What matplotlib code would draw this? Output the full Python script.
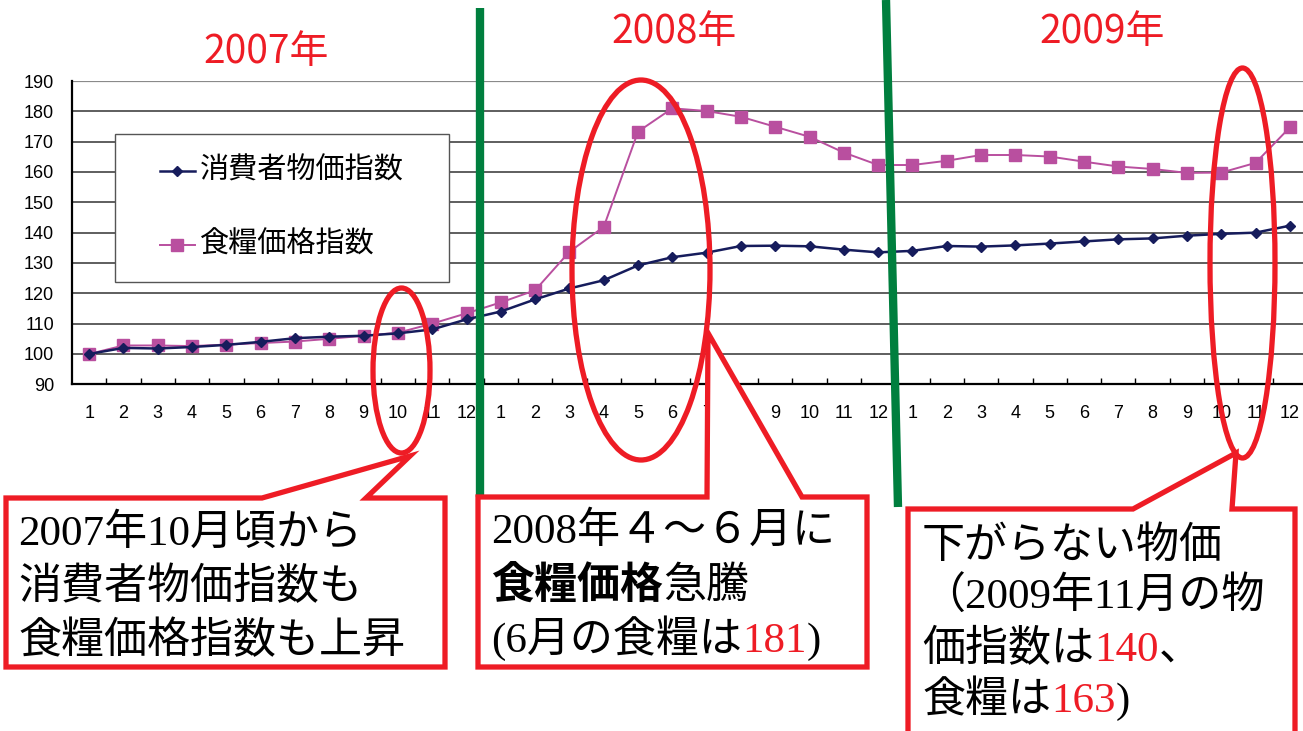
import matplotlib
matplotlib.use("Agg")
import matplotlib.pyplot as plt
from matplotlib.patches import Ellipse, Polygon, Rectangle
from matplotlib.lines import Line2D

# ---- data: monthly indices, Jan 2007 = 100 ----
months = [str(m) for m in range(1, 13)] * 3
years = ["2007年", "2008年", "2009年"]
cpi = [100.0, 102.0, 101.8, 102.3, 103.0, 104.0, 105.2, 105.7, 106.0, 106.8, 108.1, 111.4,
       114.0, 118.0, 121.6, 124.3, 129.2, 131.9, 133.4, 135.6, 135.7, 135.5, 134.4, 133.5,
       134.0, 135.6, 135.4, 135.8, 136.4, 137.1, 137.8, 138.1, 139.0, 139.6, 140.0, 142.3]
food = [100.0, 102.8, 102.8, 102.6, 103.1, 103.6, 104.1, 105.0, 106.0, 107.0, 110.0, 113.4,
        117.0, 121.0, 133.7, 141.9, 173.3, 181.0, 180.1, 178.2, 174.9, 171.6, 166.4, 162.3,
        162.3, 163.7, 165.6, 165.6, 165.1, 163.4, 161.8, 161.0, 159.7, 159.8, 163.0, 174.7]
series_names = ["消費者物価指数", "食糧価格指数"]
yticks = list(range(90, 191, 10))

W, H = 1303, 731
RED = "#ee1c25"
GREEN = "#007f3e"
NAVY = "#161c5c"
MAGENTA = "#b94f9f"
JP = ["Noto Sans CJK JP"]
SERIF_JP = ["Liberation Serif", "Noto Sans CJK JP"]

fig = plt.figure(figsize=(W / 100, H / 100), dpi=100)
fig.patch.set_facecolor("white")

# ---- main line chart ----
x0, x1, ytop, ybot = 72, 1307, 81, 384.3
ax = fig.add_axes([x0 / W, (H - ybot) / H, (x1 - x0) / W, (ybot - ytop) / H])
xs = list(range(1, len(months) + 1))
ax.plot(xs, food, color=MAGENTA, lw=1.4, marker="s", ms=8.4, mec=MAGENTA, mfc=MAGENTA, zorder=3)
ax.plot(xs, cpi, color=NAVY, lw=1.8, marker="D", ms=5.6, mec=NAVY, mfc=NAVY, zorder=4)
ax.set_xlim(0.5, len(months) + 0.5)
ax.set_ylim(90, 190)
ax.set_yticks(yticks)
ax.set_yticklabels([str(v) for v in yticks], family="Liberation Sans", fontsize=13)
ax.set_xticks(xs)
ax.set_xticklabels(months, family="Liberation Sans", fontsize=13)
ax.set_xticks([i + 0.5 for i in range(1, len(months))], minor=True)
ax.tick_params(axis="both", which="major", length=0)
ax.tick_params(axis="y", pad=13)
ax.tick_params(axis="x", pad=15)
ax.tick_params(axis="x", which="minor", direction="in", length=4, width=1, color="black")
for v in yticks[1:]:
    ax.axhline(v, color="#8a8a8a" if v == 190 else "#333333", lw=1.6 if v == 190 else 1.1, zorder=1)
for s in ["top", "right"]:
    ax.spines[s].set_visible(False)
for s in ["left", "bottom"]:
    ax.spines[s].set_color("black")
    ax.spines[s].set_linewidth(1.6)
ax.set_facecolor("none")

# ---- overlay in pixel coordinates ----
ov = fig.add_axes([0, 0, 1, 1], zorder=10)
ov.set_xlim(0, W)
ov.set_ylim(H, 0)
ov.axis("off")

# legend box
ov.add_patch(Rectangle((115, 134), 334, 148, facecolor="white", edgecolor="#555555", lw=1.0, zorder=2))
ov.add_line(Line2D([160, 195], [171, 171], color=NAVY, lw=1.8, zorder=3))
ov.plot([177], [171], marker="D", ms=5.6, color=NAVY, zorder=3)
ov.add_line(Line2D([160, 195], [245, 245], color=MAGENTA, lw=1.4, zorder=3))
ov.plot([177], [245], marker="s", ms=8.4, color=MAGENTA, zorder=3)
ov.text(200, 171, series_names[0], family=JP, fontsize=21, va="center", ha="left", zorder=3)
ov.text(200, 245, series_names[1], family=JP, fontsize=21, va="center", ha="left", zorder=3)

# year headings
for (xc, yc), label in zip([(266, 52), (674, 32), (1102, 32)], years):
    ov.text(xc, yc, label, family=JP, fontsize=28, color=RED, ha="center", va="center")

# year separators
ov.plot([480, 480], [8, 497], color=GREEN, lw=6, solid_capstyle="butt", zorder=4)
ov.plot([886, 898], [0, 507], color=GREEN, lw=6, solid_capstyle="butt", zorder=4)

# highlight ellipses
for (cx, cy, w, h) in [(401.5, 370.5, 57, 165), (641, 270, 138, 380), (1242.5, 263, 65, 390)]:
    ov.add_patch(Ellipse((cx, cy), w, h, fill=False, edgecolor=RED, lw=3.8, zorder=5))

# callout boxes
callouts = [
    [(6, 498), (262, 498), (410, 456), (366, 498), (445, 498), (445, 667), (6, 667)],
    [(478, 497), (707, 497), (708, 333), (802, 497), (867, 497), (867, 667), (478, 667)],
    [(908, 509), (1133, 509), (1236, 453), (1232, 509), (1295, 509), (1295, 745), (908, 745)],
]
for pts in callouts:
    ov.add_patch(Polygon(pts, closed=True, facecolor="white", edgecolor=RED, lw=3.8,
                         joinstyle="miter", zorder=6))

renderer = fig.canvas.get_renderer()


def rich_line(x, y, pieces, size=31):
    """Draw a line of text made of differently styled pieces, left to right."""
    for text, color, weight in pieces:
        t = ov.text(x, y, text, family=SERIF_JP, fontsize=size, color=color,
                    fontweight=weight, ha="left", va="baseline", zorder=7)
        bb = t.get_window_extent(renderer=renderer)
        x += bb.width


K = "black"
N = "normal"
rich_line(18, 545, [("2007年10月頃から", K, N)])
rich_line(18, 599, [("消費者物価指数も", K, N)])
rich_line(18, 653, [("食糧価格指数も上昇", K, N)])

rich_line(491, 543, [("2008年４～６月に", K, N)])
rich_line(491, 598, [("食糧価格", K, "bold"), ("急騰", K, N)])
rich_line(491, 652, [("(6月の食糧は", K, N), ("181", RED, N), (")", K, N)])

rich_line(922, 558, [("下がらない物価", K, N)])
rich_line(922, 609, [("（2009年11月の物", K, N)])
rich_line(922, 661, [("価指数は", K, N), ("140", RED, N), ("、", K, N)])
rich_line(922, 712, [("食糧は", K, N), ("163", RED, N), (")", K, N)])

fig.savefig("out.png", dpi=100, facecolor="white")
